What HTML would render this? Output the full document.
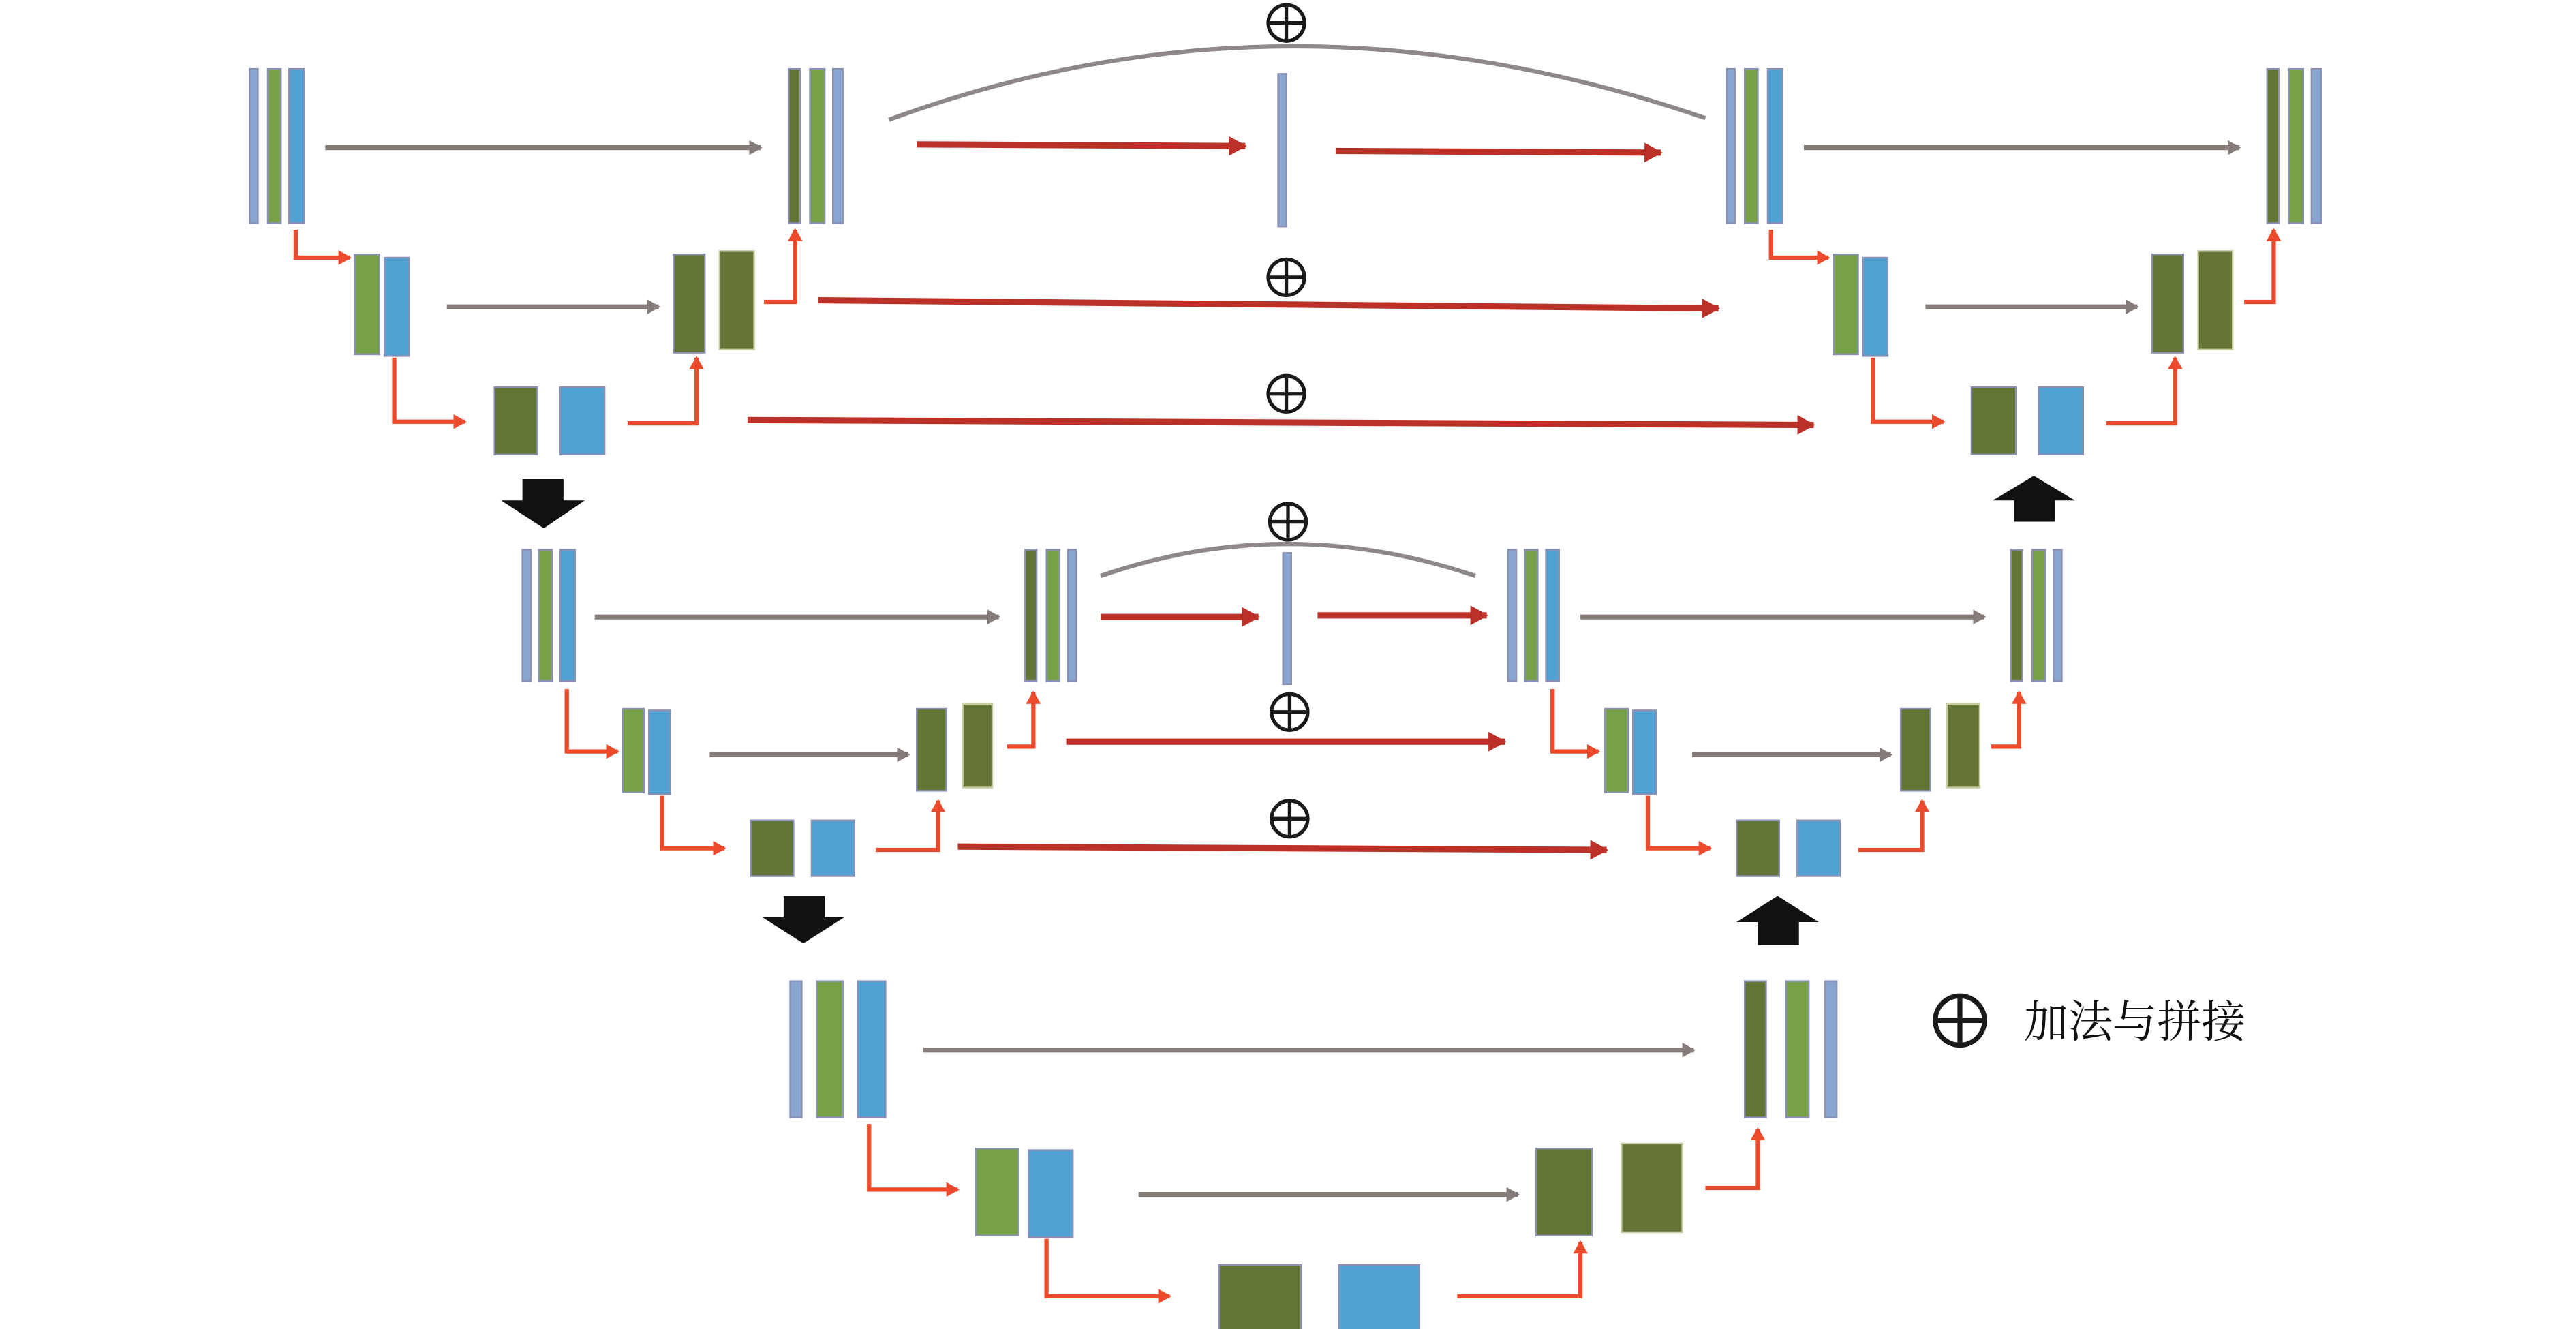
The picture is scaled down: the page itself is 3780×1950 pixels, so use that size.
<!DOCTYPE html>
<html><head><meta charset="utf-8"><style>
html,body{margin:0;padding:0;background:#fff;width:3780px;height:1950px;overflow:hidden}
svg{display:block}
.lb{fill:#88a6d0;stroke:#8a90b4;stroke-width:1}
.g{fill:#77a146;stroke:#8a90b4;stroke-width:1}
.b{fill:#51a1d3;stroke:#8a90b4;stroke-width:1}
.dg{fill:#627535;stroke:#8a90b4;stroke-width:1}
.dg2{fill:#647535;stroke:#c8cca0;stroke-width:1}
.gr{stroke:#857b79;stroke-width:3;fill:none}
.rd{stroke:#ec4a2c;stroke-width:2.6;fill:none}
.dr{stroke:#bb3127;stroke-width:3.8;fill:none}
.cv{stroke:#8e8888;stroke-width:2.6;fill:none}
</style></head><body>
<svg width="3780" height="1950" viewBox="0 0 1568 810" preserveAspectRatio="none" xmlns="http://www.w3.org/2000/svg">
<defs>
<marker id="mg" markerUnits="userSpaceOnUse" markerWidth="8" markerHeight="9" refX="7" refY="4.5" orient="auto"><path d="M0,0L8,4.5L0,9z" fill="#857b79"/></marker>
<marker id="mr" markerUnits="userSpaceOnUse" markerWidth="8" markerHeight="9" refX="7" refY="4.5" orient="auto"><path d="M0,0L8,4.5L0,9z" fill="#ec4a2c"/></marker>
<marker id="md" markerUnits="userSpaceOnUse" markerWidth="11" markerHeight="12" refX="10" refY="6" orient="auto"><path d="M0,0L11,6L0,12z" fill="#bb3127"/></marker>
</defs>

<rect class="lb" x="152" y="42" width="5" height="94"/>
<rect class="g" x="163" y="42" width="8" height="94"/>
<rect class="b" x="176" y="42" width="9" height="94"/>
<line class="gr" x1="198" y1="90" x2="463" y2="90" marker-end="url(#mg)"/>
<rect class="dg" x="480" y="42" width="7" height="94"/>
<rect class="g" x="493" y="42" width="9" height="94"/>
<rect class="lb" x="507" y="42" width="6" height="94"/>

<path class="rd" d="M180,140V157H213" marker-end="url(#mr)"/>
<rect class="g" x="216" y="155" width="15" height="61"/>
<rect class="b" x="234" y="157" width="15" height="60"/>
<line class="gr" x1="272" y1="187" x2="401" y2="187" marker-end="url(#mg)"/>
<rect class="dg" x="410" y="155" width="19" height="60"/>
<rect class="dg2" x="438" y="153" width="21" height="60"/>
<path class="rd" d="M465,184H484V140" marker-end="url(#mr)"/>

<path class="rd" d="M240,218V257H283" marker-end="url(#mr)"/>
<rect class="dg" x="301" y="236" width="26" height="41"/>
<rect class="b" x="341" y="236" width="27" height="41"/>
<path class="rd" d="M382,258H424V218" marker-end="url(#mr)"/>

<path class="cv" d="M541,73Q783,-16 1038,72"/>
<line class="dr" x1="558" y1="88" x2="758" y2="89" marker-end="url(#md)"/>
<rect class="lb" x="778" y="45" width="5" height="93"/>
<line class="dr" x1="813" y1="92" x2="1011" y2="93" marker-end="url(#md)"/>
<line class="dr" x1="498" y1="183" x2="1046" y2="188" marker-end="url(#md)"/>
<line class="dr" x1="455" y1="256" x2="1104" y2="259" marker-end="url(#md)"/>

<rect class="lb" x="1051" y="42" width="5" height="94"/>
<rect class="g" x="1062" y="42" width="8" height="94"/>
<rect class="b" x="1076" y="42" width="9" height="94"/>
<line class="gr" x1="1098" y1="90" x2="1363" y2="90" marker-end="url(#mg)"/>
<rect class="dg" x="1380" y="42" width="7" height="94"/>
<rect class="g" x="1393" y="42" width="9" height="94"/>
<rect class="lb" x="1407" y="42" width="6" height="94"/>

<path class="rd" d="M1078,140V157H1113" marker-end="url(#mr)"/>
<rect class="g" x="1116" y="155" width="15" height="61"/>
<rect class="b" x="1134" y="157" width="15" height="60"/>
<line class="gr" x1="1172" y1="187" x2="1301" y2="187" marker-end="url(#mg)"/>
<rect class="dg" x="1310" y="155" width="19" height="60"/>
<rect class="dg2" x="1338" y="153" width="21" height="60"/>
<path class="rd" d="M1366,184H1384V140" marker-end="url(#mr)"/>

<path class="rd" d="M1140,218V257H1183" marker-end="url(#mr)"/>
<rect class="dg" x="1200" y="236" width="27" height="41"/>
<rect class="b" x="1241" y="236" width="27" height="41"/>
<path class="rd" d="M1282,258H1324V218" marker-end="url(#mr)"/>

<path d="M318,292H343V305H356L331,322L305,305H318z" fill="#111"/>
<path d="M1226,318H1251V305H1263L1238,290L1213,305H1226z" fill="#111"/>

<rect class="lb" x="318" y="335" width="5" height="80"/>
<rect class="g" x="328" y="335" width="8" height="80"/>
<rect class="b" x="341" y="335" width="9" height="80"/>
<line class="gr" x1="362" y1="376" x2="608" y2="376" marker-end="url(#mg)"/>
<rect class="dg" x="624" y="335" width="7" height="80"/>
<rect class="g" x="637" y="335" width="8" height="80"/>
<rect class="lb" x="650" y="335" width="5" height="80"/>

<path class="cv" d="M670,351Q783,312 898,351"/>
<line class="dr" x1="670" y1="376" x2="766" y2="376" marker-end="url(#md)"/>
<rect class="lb" x="781" y="337" width="5" height="80"/>
<line class="dr" x1="802" y1="375" x2="905" y2="375" marker-end="url(#md)"/>

<rect class="lb" x="918" y="335" width="5" height="80"/>
<rect class="g" x="928" y="335" width="8" height="80"/>
<rect class="b" x="941" y="335" width="8" height="80"/>
<line class="gr" x1="962" y1="376" x2="1208" y2="376" marker-end="url(#mg)"/>
<rect class="dg" x="1224" y="335" width="7" height="80"/>
<rect class="g" x="1237" y="335" width="8" height="80"/>
<rect class="lb" x="1250" y="335" width="5" height="80"/>

<path class="rd" d="M345,420V458H376" marker-end="url(#mr)"/>
<rect class="g" x="379" y="432" width="13" height="51"/>
<rect class="b" x="395" y="433" width="13" height="51"/>
<line class="gr" x1="432" y1="460" x2="553" y2="460" marker-end="url(#mg)"/>
<rect class="dg" x="558" y="432" width="18" height="50"/>
<rect class="dg2" x="586" y="429" width="18" height="51"/>
<path class="rd" d="M613,455H629V422" marker-end="url(#mr)"/>
<line class="dr" x1="649" y1="452" x2="916" y2="452" marker-end="url(#md)"/>

<path class="rd" d="M945,420V458H973" marker-end="url(#mr)"/>
<rect class="g" x="977" y="432" width="14" height="51"/>
<rect class="b" x="994" y="433" width="14" height="51"/>
<line class="gr" x1="1030" y1="460" x2="1151" y2="460" marker-end="url(#mg)"/>
<rect class="dg" x="1157" y="432" width="18" height="50"/>
<rect class="dg2" x="1185" y="429" width="20" height="51"/>
<path class="rd" d="M1212,455H1229V422" marker-end="url(#mr)"/>

<path class="rd" d="M403,485V517H441" marker-end="url(#mr)"/>
<rect class="dg" x="457" y="500" width="26" height="34"/>
<rect class="b" x="494" y="500" width="26" height="34"/>
<path class="rd" d="M533,518H571V488" marker-end="url(#mr)"/>
<line class="dr" x1="583" y1="516" x2="978" y2="518" marker-end="url(#md)"/>

<path class="rd" d="M1003,485V517H1041" marker-end="url(#mr)"/>
<rect class="dg" x="1057" y="500" width="26" height="34"/>
<rect class="b" x="1094" y="500" width="26" height="34"/>
<path class="rd" d="M1131,518H1170V488" marker-end="url(#mr)"/>

<path d="M477,546H502V559H514L489,575L464,559H477z" fill="#111"/>
<path d="M1070,576H1095V562H1107L1082,546L1057,562H1070z" fill="#111"/>

<rect class="lb" x="481" y="598" width="7" height="83"/>
<rect class="g" x="497" y="598" width="16" height="83"/>
<rect class="b" x="522" y="598" width="17" height="83"/>
<line class="gr" x1="562" y1="640" x2="1031" y2="640" marker-end="url(#mg)"/>
<rect class="dg" x="1062" y="598" width="13" height="83"/>
<rect class="g" x="1087" y="598" width="14" height="83"/>
<rect class="lb" x="1111" y="598" width="7" height="83"/>

<path class="rd" d="M529,685V725H583" marker-end="url(#mr)"/>
<rect class="g" x="594" y="700" width="26" height="53"/>
<rect class="b" x="626" y="701" width="27" height="53"/>
<line class="gr" x1="693" y1="728" x2="924" y2="728" marker-end="url(#mg)"/>
<rect class="dg" x="935" y="700" width="34" height="53"/>
<rect class="dg2" x="987" y="697" width="37" height="54"/>
<path class="rd" d="M1038,724H1070V688" marker-end="url(#mr)"/>

<path class="rd" d="M637,755V790H712" marker-end="url(#mr)"/>
<rect class="dg" x="742" y="771" width="50" height="45"/>
<rect class="b" x="815" y="771" width="49" height="45"/>
<path class="rd" d="M887,790H962V757" marker-end="url(#mr)"/>

<g stroke="#1a1a1a" fill="none" stroke-width="2.2">
<circle cx="783" cy="14" r="11"/><path d="M772,14H794M783,3V25"/>
<circle cx="783" cy="169" r="11"/><path d="M772,169H794M783,158V180"/>
<circle cx="783" cy="240" r="11"/><path d="M772,240H794M783,229V251"/>
<circle cx="784" cy="318" r="11"/><path d="M773,318H795M784,307V329"/>
<circle cx="785" cy="434" r="11"/><path d="M774,434H796M785,423V445"/>
<circle cx="785" cy="499" r="11"/><path d="M774,499H796M785,488V510"/>
<circle cx="1193" cy="622" r="15" stroke-width="3"/><path d="M1178,622H1208M1193,607V637" stroke-width="3"/>
</g>
<text x="1232" y="632" font-family="'Liberation Serif','Noto Serif CJK SC','Noto Serif CJK JP',serif" font-size="27" fill="#111">加法与拼接</text>
</svg>
</body></html>
